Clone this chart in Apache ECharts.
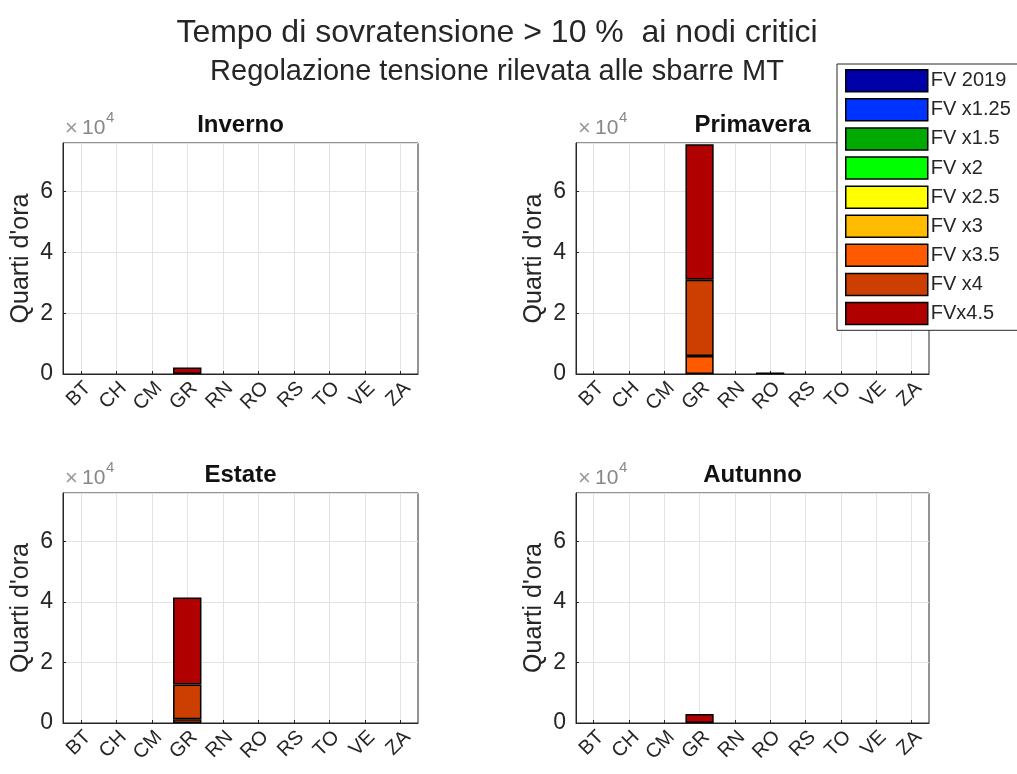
<!DOCTYPE html>
<html>
<head>
<meta charset="utf-8">
<script src="https://cdn.jsdelivr.net/npm/echarts@6/dist/echarts.min.js"></script>
<style>
  html, body { margin: 0; padding: 0; background: #fff; }
  #chart { width: 1017px; height: 774px; }
</style>
</head>
<body>
<div id="chart"></div>
<script>
// categorie (nodi)
const nodi = ['BT', 'CH', 'CM', 'GR', 'RN', 'RO', 'RS', 'TO', 'VE', 'ZA'];
const scenari = ['FV 2019', 'FV x1.25', 'FV x1.5', 'FV x2', 'FV x2.5', 'FV x3', 'FV x3.5', 'FV x4', 'FVx4.5'];
const colori = ['#0000a8', '#0033ff', '#00aa00', '#00ff00', '#ffff00', '#ffbb00', '#ff5a00', '#cc3f00', '#b00000'];
const stagioni = ['Inverno', 'Primavera', 'Estate', 'Autunno'];
const yTicks = [0, 20000, 40000, 60000];
const yMax = 76000;

// quarti d'ora per scenario (righe) e nodo (colonne)
const inverno = [
  [0, 0, 0, 0, 0, 0, 0, 0, 0, 0],
  [0, 0, 0, 0, 0, 0, 0, 0, 0, 0],
  [0, 0, 0, 0, 0, 0, 0, 0, 0, 0],
  [0, 0, 0, 0, 0, 0, 0, 0, 0, 0],
  [0, 0, 0, 0, 0, 0, 0, 0, 0, 0],
  [0, 0, 0, 0, 0, 0, 0, 0, 0, 0],
  [0, 0, 0, 0, 0, 0, 0, 0, 0, 0],
  [0, 0, 0, 0, 0, 0, 0, 0, 0, 0],
  [0, 0, 0, 2100, 0, 0, 0, 0, 0, 0]
];
const primavera = [
  [0, 0, 0, 0, 0, 0, 0, 0, 0, 0],
  [0, 0, 0, 0, 0, 0, 0, 0, 0, 0],
  [0, 0, 0, 0, 0, 0, 0, 0, 0, 0],
  [0, 0, 0, 0, 0, 0, 0, 0, 0, 0],
  [0, 0, 0, 0, 0, 0, 0, 0, 0, 0],
  [0, 0, 0, 0, 0, 0, 0, 0, 0, 0],
  [0, 0, 0, 5900, 0, 0, 0, 0, 0, 0],
  [0, 0, 0, 25100, 0, 0, 0, 0, 0, 0],
  [0, 0, 0, 44600, 0, 500, 0, 0, 0, 0]
];
const estate = [
  [0, 0, 0, 0, 0, 0, 0, 0, 0, 0],
  [0, 0, 0, 0, 0, 0, 0, 0, 0, 0],
  [0, 0, 0, 0, 0, 0, 0, 0, 0, 0],
  [0, 0, 0, 0, 0, 0, 0, 0, 0, 0],
  [0, 0, 0, 0, 0, 0, 0, 0, 0, 0],
  [0, 0, 0, 0, 0, 0, 0, 0, 0, 0],
  [0, 0, 0, 1200, 0, 0, 0, 0, 0, 0],
  [0, 0, 0, 11500, 0, 0, 0, 0, 0, 0],
  [0, 0, 0, 28800, 0, 0, 0, 0, 0, 0]
];
const autunno = [
  [0, 0, 0, 0, 0, 0, 0, 0, 0, 0],
  [0, 0, 0, 0, 0, 0, 0, 0, 0, 0],
  [0, 0, 0, 0, 0, 0, 0, 0, 0, 0],
  [0, 0, 0, 0, 0, 0, 0, 0, 0, 0],
  [0, 0, 0, 0, 0, 0, 0, 0, 0, 0],
  [0, 0, 0, 0, 0, 0, 0, 0, 0, 0],
  [0, 0, 0, 0, 0, 0, 0, 0, 0, 0],
  [0, 0, 0, 0, 0, 0, 0, 0, 0, 0],
  [0, 0, 0, 3000, 0, 0, 0, 0, 0, 0]
];
const datiStagioni = [inverno, primavera, estate, autunno];

const chart = echarts.init(document.getElementById('chart'));
const font = '"Liberation Sans", Arial, sans-serif';
const txt = '#262626';

// posizione dei 4 riquadri
const griglie = [
  { left: 63, top: 143, width: 355, height: 231 },
  { left: 576, top: 143, width: 353, height: 231 },
  { left: 63, top: 493, width: 355, height: 230 },
  { left: 576, top: 493, width: 353, height: 230 }
];

const grid = [], xAxis = [], yAxis = [], series = [], titoli = [], graphic = [];

griglie.forEach((g, i) => {
  grid.push(Object.assign({
    show: true,
    backgroundColor: '#fff',
    borderColor: txt,
    borderWidth: 1
  }, g));

  xAxis.push({
    type: 'category',
    gridIndex: i,
    data: nodi,
    axisLine: { lineStyle: { color: txt, width: 1 } },
    axisTick: { show: true, inside: true, alignWithLabel: true, length: 3, lineStyle: { color: txt } },
    axisLabel: {
      rotate: 45, interval: 0, color: txt, fontSize: 20, fontFamily: font,
      margin: 4, verticalAlign: 'top'
    },
    splitLine: { show: true, alignWithLabel: true, lineStyle: { color: '#e3e3e3' } }
  });

  yAxis.push({
    type: 'value',
    gridIndex: i,
    min: 0,
    max: yMax,
    interval: yTicks[1] - yTicks[0],
    name: "Quarti d'ora",
    nameLocation: 'middle',
    nameGap: 29,
    nameTextStyle: { color: txt, fontSize: 25, fontFamily: font },
    axisLine: { show: true, lineStyle: { color: txt } },
    axisTick: { show: true, inside: true, length: 3, lineStyle: { color: txt } },
    axisLabel: {
      color: txt, fontSize: 23, fontFamily: font, margin: 10,
      showMaxLabel: false,
      formatter: v => (yTicks.indexOf(v) >= 0 ? String(v / 10000) : '')
    },
    splitLine: { show: true, lineStyle: { color: '#e3e3e3' } }
  });

  titoli.push({
    text: stagioni[i],
    left: g.left + g.width / 2,
    top: g.top - 30,
    textAlign: 'center',
    padding: 0,
    textStyle: { color: '#111', fontSize: 24, fontWeight: 'bold', fontFamily: font }
  });

  // esponente dell'asse y
  graphic.push(
    {
      type: 'text', left: g.left + 2, top: g.top - 25,
      style: { text: '×', fontSize: 22, fill: '#999', fontFamily: font }
    },
    {
      type: 'text', left: g.left + 19, top: g.top - 25,
      style: { text: '10', fontSize: 21, fill: '#888', fontFamily: font }
    },
    {
      type: 'text', left: g.left + 43, top: g.top - 33,
      style: { text: '4', fontSize: 15, fill: '#888', fontFamily: font }
    }
  );

  datiStagioni[i].forEach((righe, s) => {
    series.push({
      name: scenari[s],
      type: 'bar',
      xAxisIndex: i,
      yAxisIndex: i,
      stack: 'tot' + i,
      barWidth: '80%',
      itemStyle: { color: colori[s], borderColor: '#000', borderWidth: 1.5 },
      data: righe.map(v => (v > 0 ? v : null))
    });
  });
});

// titolo generale
titoli.unshift(
  {
    text: 'Tempo di sovratensione > 10 %  ai nodi critici',
    left: 497, top: 17, textAlign: 'center', padding: 0,
    textStyle: { color: txt, fontSize: 32, fontWeight: 'normal', fontFamily: font }
  },
  {
    text: 'Regolazione tensione rilevata alle sbarre MT',
    left: 497, top: 57, textAlign: 'center', padding: 0,
    textStyle: { color: txt, fontSize: 29, fontWeight: 'normal', fontFamily: font }
  }
);

const option = {
  backgroundColor: '#fff',
  animation: false,
  title: titoli,
  legend: {
    data: scenari,
    orient: 'vertical',
    left: 837,
    top: 64,
    width: 200,
    padding: [5, 40, 5, 8],
    itemWidth: 82,
    itemHeight: 22,
    itemGap: 5.6,
    icon: 'rect',
    backgroundColor: '#fff',
    borderColor: txt,
    borderWidth: 1,
    itemStyle: { borderColor: '#000', borderWidth: 1.5 },
    textStyle: { color: txt, fontSize: 20, lineHeight: 22, fontFamily: font, padding: [0, 0, 0, -2] }
  },
  grid: grid,
  xAxis: xAxis,
  yAxis: yAxis,
  graphic: graphic,
  series: series
};

chart.setOption(option);
</script>
</body>
</html>
